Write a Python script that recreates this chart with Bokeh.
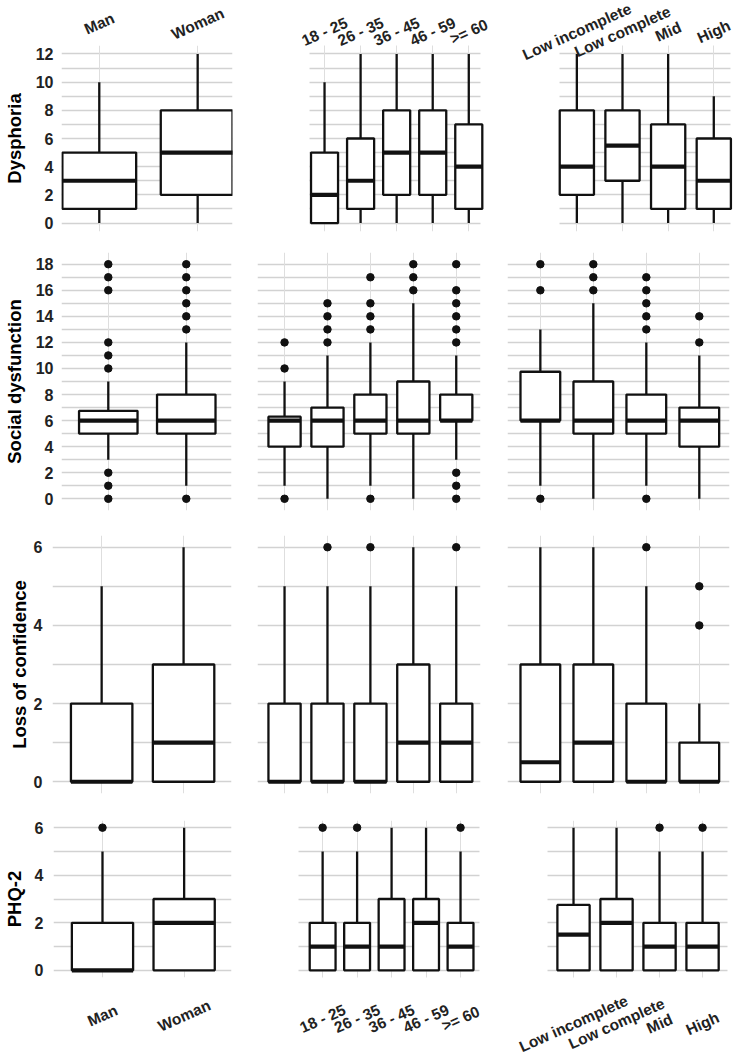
from bokeh.plotting import figure
from bokeh.models import Range1d, FixedTicker, ColumnDataSource, LinearAxis, Grid
from bokeh.core.properties import value
from bokeh.layouts import row, column
from bokeh.embed import file_html
from bokeh.resources import INLINE

# ---------------- data ----------------
sex_categories = ["Man", "Woman"]
age_categories = ["18 - 25", "26 - 35", "36 - 45", "46 - 59", ">= 60"]
edu_categories = ["Low incomplete", "Low complete", "Mid", "High"]

variables = ["Dysphoria", "Social dysfunction", "Loss of confidence", "PHQ-2"]

# Dysphoria
dysphoria_sex = dict(lower=[0, 0], q1=[1, 2], median=[3, 5], q3=[5, 8], upper=[10, 12],
                     outliers=[[], []])
dysphoria_age = dict(lower=[0, 0, 0, 0, 0], q1=[0, 1, 2, 2, 1], median=[2, 3, 5, 5, 4],
                     q3=[5, 6, 8, 8, 7], upper=[10, 12, 12, 12, 12],
                     outliers=[[], [], [], [], []])
dysphoria_edu = dict(lower=[0, 0, 0, 0], q1=[2, 3, 1, 1], median=[4, 5.5, 4, 3],
                     q3=[8, 8, 7, 6], upper=[12, 12, 12, 9], outliers=[[], [], [], []])

# Social dysfunction
social_sex = dict(lower=[3, 1], q1=[5, 5], median=[6, 6], q3=[6.75, 8], upper=[9, 12],
                  outliers=[[0, 1, 2, 10, 11, 12, 16, 17, 18], [0, 13, 14, 15, 16, 17, 18]])
social_age = dict(lower=[1, 0, 1, 0, 3], q1=[4, 4, 5, 5, 6], median=[6, 6, 6, 6, 6],
                  q3=[6.3, 7, 8, 9, 8], upper=[9, 11, 12, 15, 11],
                  outliers=[[0, 10, 12], [12, 13, 14, 15], [0, 13, 14, 15, 17], [16, 17, 18],
                            [0, 1, 2, 12, 13, 14, 15, 16, 18]])
social_edu = dict(lower=[1, 0, 1, 0], q1=[6, 5, 5, 4], median=[6, 6, 6, 6],
                  q3=[9.75, 9, 8, 7], upper=[13, 15, 12, 11],
                  outliers=[[0, 16, 18], [16, 17, 18], [0, 13, 14, 15, 16, 17], [12, 14]])

# Loss of confidence
confidence_sex = dict(lower=[0, 0], q1=[0, 0], median=[0, 1], q3=[2, 3], upper=[5, 6],
                      outliers=[[], []])
confidence_age = dict(lower=[0, 0, 0, 0, 0], q1=[0, 0, 0, 0, 0], median=[0, 0, 0, 1, 1],
                      q3=[2, 2, 2, 3, 2], upper=[5, 5, 5, 6, 5],
                      outliers=[[], [6], [6], [], [6]])
confidence_edu = dict(lower=[0, 0, 0, 0], q1=[0, 0, 0, 0], median=[0.5, 1, 0, 0],
                      q3=[3, 3, 2, 1], upper=[6, 6, 5, 2], outliers=[[], [], [6], [4, 5]])

# PHQ-2
phq_sex = dict(lower=[0, 0], q1=[0, 0], median=[0, 2], q3=[2, 3], upper=[5, 6],
               outliers=[[6], []])
phq_age = dict(lower=[0, 0, 0, 0, 0], q1=[0, 0, 0, 0, 0], median=[1, 1, 1, 2, 1],
               q3=[2, 2, 3, 3, 2], upper=[5, 5, 6, 6, 5], outliers=[[6], [6], [], [], [6]])
phq_edu = dict(lower=[0, 0, 0, 0], q1=[0, 0, 0, 0], median=[1.5, 2, 1, 1],
               q3=[2.75, 3, 2, 2], upper=[6, 6, 5, 5], outliers=[[], [], [6], [6]])

y_max = [12, 18, 6, 6]

stats = [
    [dysphoria_sex, dysphoria_age, dysphoria_edu],
    [social_sex, social_age, social_edu],
    [confidence_sex, confidence_age, confidence_edu],
    [phq_sex, phq_age, phq_edu],
]
group_categories = [sex_categories, age_categories, edu_categories]

# ---------------- layout / style ----------------
FONT = "Liberation Sans"
GRID = "#d2d2d2"
VGRID = "#dedede"
INK = "#111111"
BOX_W = 0.75
HAS_CROSS = "cross_bounds" in Grid.properties()

# (frame top px from row top, frame bottom px from row bottom, y padding, row height)
row_specs = [
    (45, 9, 0.6, 240),
    (12, 12, 0.9, 282),
    (13, 7, 0.3, 278),
    (20, 83, 0.3, 260),
]
# per panel: (figure width, border left, border right, x start, x end)
panel_specs = [
    [(245, 60, 13, 0.616, 2.354), (250, 64, 15, 0.583, 5.325), (249, 64, 14, 0.62, 4.366)],
    [(245, 60, 14, 0.40, 2.58), (250, 12, 15, 0.37, 5.565), (249, 12, 15, 0.38, 4.57)],
    [(245, 52, 14, 0.40, 2.585), (250, 12, 15, 0.37, 5.565), (249, 12, 15, 0.38, 4.57)],
    [(245, 52, 14, 0.40, 2.58), (250, 53, 16, 0.30, 5.55), (249, 52, 17, 0.395, 4.58)],
]
axis_label_standoffs = [8, 8, 1, 7]
tick_standoffs = [8, 8, 10, 10]
TOP_LABEL_GAP = [22, 14, 14]          # label centre, px above the frame top
BOTTOM_LABEL_GAP = [38, 41, 46]       # label centre, px below the frame bottom
LABEL_ANGLE = 0.42
LABEL_STYLE = dict(text_font=value(FONT), text_font_style="bold", text_font_size="15.5px",
                   text_color="#222222", angle=LABEL_ANGLE, text_align="center",
                   text_baseline="middle")


def bare_figure(width, height, xr, yr, bl, br, bt, bb):
    p = figure(width=width, height=height, output_backend="svg", toolbar_location=None,
               x_range=xr, y_range=yr, x_axis_location=None, y_axis_location=None,
               min_border_left=bl, min_border_right=br,
               min_border_top=bt, min_border_bottom=bb)
    p.center = [m for m in p.center if not isinstance(m, Grid)]
    p.outline_line_color = None
    p.background_fill_color = "white"
    p.border_fill_color = "white"
    return p


def draw_grid(p, pos, ymax, ypad, x0, x1):
    major = list(range(0, ymax + 1, 2))
    minor = list(range(1, ymax + 1, 2))
    if HAS_CROSS:
        p.add_layout(Grid(dimension=1, ticker=FixedTicker(ticks=major, minor_ticks=minor),
                          grid_line_color=GRID, grid_line_width=1.6,
                          minor_grid_line_color=GRID, minor_grid_line_width=1.6,
                          cross_bounds=(x0, x1)))
        p.add_layout(Grid(dimension=0, ticker=FixedTicker(ticks=pos),
                          grid_line_color=VGRID, grid_line_width=1.0,
                          cross_bounds=(-ypad, ymax + ypad)))
    else:
        levels = list(range(0, ymax + 1))
        p.segment(x0=[x0] * len(levels), x1=[x1] * len(levels), y0=levels, y1=levels,
                  line_color=GRID, line_width=1.6)
        p.segment(x0=pos, x1=pos, y0=[-ypad] * len(pos), y1=[ymax + ypad] * len(pos),
                  line_color=VGRID, line_width=1.0)


def make_panel(r, c, fig_height, bt, bb, extend=None):
    """extend = "top" / "bottom": the frame also covers the label band and the side
    margins, so that slanted category names can run into them without clipping."""
    _, _, ypad, _ = row_specs[r]
    width, bl, br, x0, x1 = panel_specs[r][c]
    st = stats[r][c]
    cats = group_categories[c]
    pos = [i + 1 for i in range(len(cats))]
    ymax = y_max[r]

    if extend:
        frame_h = fig_height - bt - bb
        ky = frame_h / (ymax + 2 * ypad)
        kx = (width - bl - br) / (x1 - x0)
        xr = Range1d(x0 - bl / kx, x1 + br / kx)
        if extend == "top":
            yr = Range1d(-ypad, ymax + ypad + bt / ky)
            p = bare_figure(width, fig_height, xr, yr, 0, 0, 0, bb)
        else:
            yr = Range1d(-ypad - bb / ky, ymax + ypad)
            p = bare_figure(width, fig_height, xr, yr, 0, 0, bt, 0)
    else:
        p = bare_figure(width, fig_height, Range1d(x0, x1), Range1d(-ypad, ymax + ypad),
                        bl, br, bt, bb)

    draw_grid(p, pos, ymax, ypad, x0, x1)

    if c == 0:
        major = list(range(0, ymax + 1, 2))
        ax = LinearAxis(ticker=FixedTicker(ticks=major), axis_label=variables[r])
        ax.axis_line_color = None
        ax.major_tick_line_color = None
        ax.minor_tick_line_color = None
        ax.major_tick_out = 0
        ax.major_tick_in = 0
        ax.major_label_standoff = tick_standoffs[r]
        ax.major_label_text_font = FONT
        ax.major_label_text_font_style = "bold"
        ax.major_label_text_font_size = "16px"
        ax.major_label_text_color = "#222222"
        ax.axis_label_text_font = FONT
        ax.axis_label_text_font_style = "bold"
        ax.axis_label_text_font_size = "18.5px"
        ax.axis_label_text_color = "#000000"
        ax.axis_label_standoff = axis_label_standoffs[r]
        p.add_layout(ax, "left")

    src = ColumnDataSource(dict(
        x=pos,
        left=[v - BOX_W / 2 for v in pos],
        right=[v + BOX_W / 2 for v in pos],
        lower=st["lower"], q1=st["q1"], median=st["median"], q3=st["q3"], upper=st["upper"],
    ))
    p.segment(x0="x", y0="q3", x1="x", y1="upper", source=src, line_color=INK, line_width=2.3)
    p.segment(x0="x", y0="lower", x1="x", y1="q1", source=src, line_color=INK, line_width=2.3)
    p.vbar(x="x", width=BOX_W, bottom="q1", top="q3", source=src, fill_color="white",
           line_color=INK, line_width=2.3)
    p.segment(x0="left", y0="median", x1="right", y1="median", source=src,
              line_color=INK, line_width=4.2)

    ox, oy = [], []
    for v, outs in zip(pos, st["outliers"]):
        for o in outs:
            ox.append(v)
            oy.append(o)
    if ox:
        p.scatter(ox, oy, size=7.5, color=INK)

    if extend == "top":
        p.text(x=pos, y=[ymax + ypad] * len(pos), text=cats,
               y_offset=-TOP_LABEL_GAP[c], **LABEL_STYLE)
    elif extend == "bottom":
        p.text(x=pos, y=[-ypad] * len(pos), text=cats,
               y_offset=BOTTOM_LABEL_GAP[c], **LABEL_STYLE)
    return p


def label_strip(r, c, height, center_from_top):
    """Band of category names sharing the panel's side borders and x range."""
    width, bl, br, x0, x1 = panel_specs[r][c]
    cats = group_categories[c]
    pos = [i + 1 for i in range(len(cats))]
    p = bare_figure(width, height, Range1d(x0, x1), Range1d(0, height), bl, br, 0, 0)
    p.text(x=pos, y=[height - center_from_top] * len(pos), text=cats, **LABEL_STYLE)
    return p


# row 1: names above the panels
top_h, bb1, _, row1_h = row_specs[0]
c1 = column(label_strip(0, 0, top_h, top_h - TOP_LABEL_GAP[0]),
            make_panel(0, 0, row1_h - top_h, 0, bb1))
row1 = row(c1,
           make_panel(0, 1, row1_h, top_h, bb1, extend="top"),
           make_panel(0, 2, row1_h, top_h, bb1, extend="top"))

rows = [row1]
for r in (1, 2):
    bt, bb, _, h = row_specs[r]
    rows.append(row(*[make_panel(r, c, h, bt, bb) for c in range(3)]))

# row 4: names below the panels
bt4, bb4, _, h4 = row_specs[3]
PANEL4_BOTTOM = 8
strip_h = bb4 - PANEL4_BOTTOM
c4 = column(make_panel(3, 0, h4 - strip_h, bt4, PANEL4_BOTTOM),
            label_strip(3, 0, strip_h, BOTTOM_LABEL_GAP[0] - PANEL4_BOTTOM))
rows.append(row(c4,
                make_panel(3, 1, h4, bt4, bb4, extend="bottom"),
                make_panel(3, 2, h4, bt4, bb4, extend="bottom")))

layout = column(*rows)
open("out.html", "w").write(file_html(layout, INLINE))
